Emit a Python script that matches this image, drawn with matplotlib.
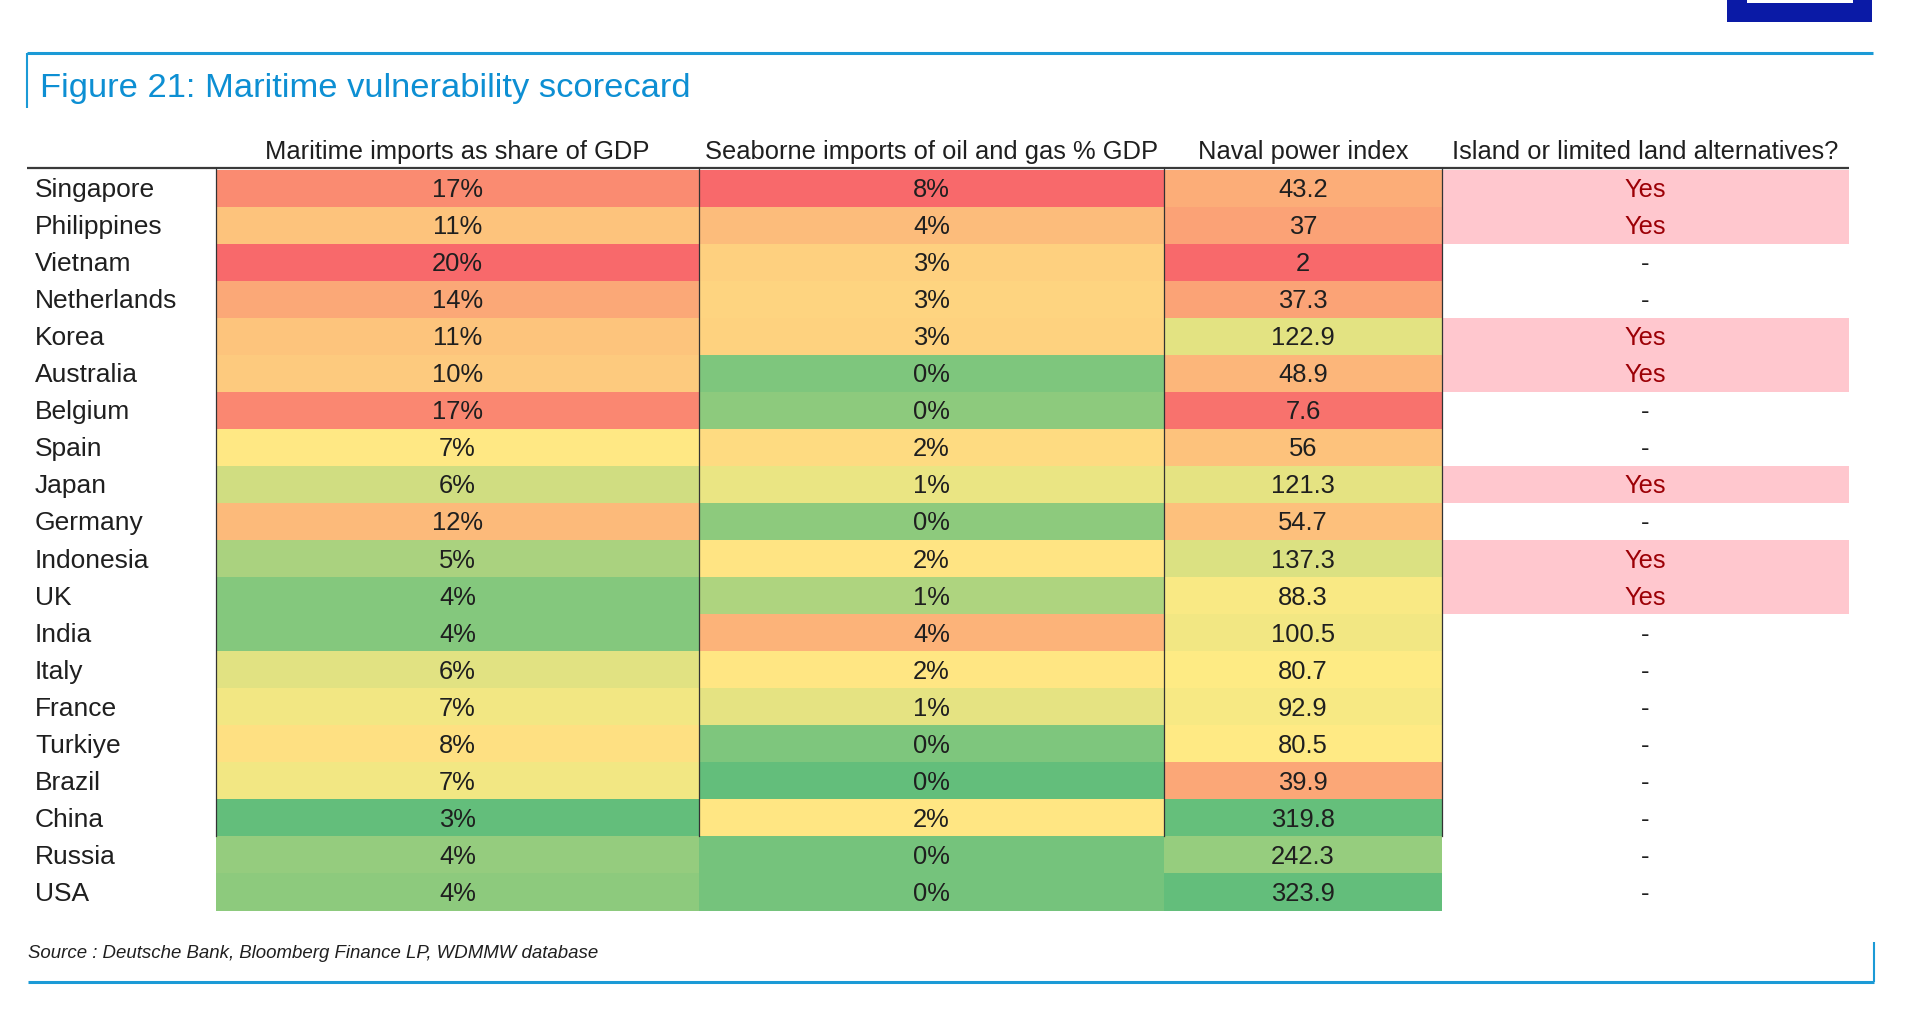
import numpy as np
import matplotlib.pyplot as plt
from matplotlib.colors import LinearSegmentedColormap, TwoSlopeNorm
from matplotlib.patches import Rectangle

# data read off the scorecard (decimals are estimates, shown rounded)
countries = ['Singapore', 'Philippines', 'Vietnam', 'Netherlands', 'Korea', 'Australia',
             'Belgium', 'Spain', 'Japan', 'Germany', 'Indonesia', 'UK', 'India', 'Italy',
             'France', 'Turkiye', 'Brazil', 'China', 'Russia', 'USA']
maritime_imports = [16.8, 11.0, 20.3, 13.8, 10.9, 10.3, 17.2, 7.2, 5.8, 12.0,
                    4.9, 4.0, 4.0, 6.2, 6.6, 8.0, 6.6, 3.2, 4.4, 4.2]
oil_gas_imports = [8.1, 4.0, 3.0, 2.8, 2.9, 0.3, 0.45, 2.45, 1.45, 0.45,
                   2.0, 0.8, 4.4, 1.9, 1.4, 0.3, 0.0, 1.9, 0.2, 0.2]
naval_power = [43.2, 37, 2, 37.3, 122.9, 48.9, 7.6, 56, 121.3, 54.7,
               137.3, 88.3, 100.5, 80.7, 92.9, 80.5, 39.9, 319.8, 242.3, 323.9]
island = ['Yes', 'Yes', '-', '-', 'Yes', 'Yes', '-', '-', 'Yes', '-',
          'Yes', 'Yes', '-', '-', '-', '-', '-', '-', '-', '-']
headers = ['Maritime imports as share of GDP', 'Seaborne imports of oil and gas % GDP',
           'Naval power index', 'Island or limited land alternatives?']
title = 'Figure 21: Maritime vulnerability scorecard'
source = 'Source : Deutsche Bank, Bloomberg Finance LP, WDMMW database'

plt.rcParams['font.family'] = ['Liberation Sans', 'DejaVu Sans']

W, H = 1932, 1014
fig = plt.figure(figsize=(W / 100, H / 100), dpi=100)
ax = fig.add_axes([0, 0, 1, 1])
ax.set_xlim(0, W)
ax.set_ylim(H, 0)
ax.axis('off')

blue = '#1b9ad6'
txt = '#1f1f1f'
fs = 18.4

# column edges (pixels) and rows
col_x = [216, 699, 1164, 1442, 1849]
row_top = 169.5
row_h = 37.05
n = len(countries)
y_edges = row_top + np.arange(n + 1) * row_h
y_mid = (y_edges[:-1] + y_edges[1:]) / 2

# excel-like 3 colour scale (green - yellow - red)
cmap = LinearSegmentedColormap.from_list('scale', ['#63BE7B', '#FFEB84', '#F8696B'])
cmap_r = cmap.reversed()

cols = [(maritime_imports, cmap, lambda v: f'{v:.0f}%'),
        (oil_gas_imports, cmap, lambda v: f'{v:.0f}%'),
        (naval_power, cmap_r, lambda v: f'{v:g}')]

for i, (vals, cm, fmt) in enumerate(cols):
    vals = np.array(vals, dtype=float)
    norm = TwoSlopeNorm(vcenter=np.median(vals), vmin=vals.min(), vmax=vals.max())
    ax.pcolormesh([col_x[i], col_x[i + 1]], y_edges, vals.reshape(-1, 1),
                  cmap=cm, norm=norm, shading='flat')
    xc = (col_x[i] + col_x[i + 1]) / 2
    for y, v in zip(y_mid, vals):
        ax.text(xc, y + 9, fmt(v), ha='center', va='baseline', fontsize=fs, color=txt)

# island column
is_yes = np.array([s == 'Yes' for s in island])
ax.barh(y_mid[is_yes], col_x[4] - col_x[3], left=col_x[3], height=row_h,
        color='#FFC7CE', linewidth=0)
xc = (col_x[3] + col_x[4]) / 2
for y, s in zip(y_mid, island):
    if s == 'Yes':
        ax.text(xc, y + 9, s, ha='center', va='baseline', fontsize=fs, color='#9C0006')
    else:
        ax.text(xc, y + 9, s, ha='center', va='baseline', fontsize=fs, color=txt)

# row labels
for y, c in zip(y_mid, countries):
    ax.text(35, y + 9, c, ha='left', va='baseline', fontsize=fs + 0.6, color=txt)

# headers
for i, h in enumerate(headers):
    ax.text((col_x[i] + col_x[i + 1]) / 2, 159, h, ha='center', va='baseline',
            fontsize=fs, color=txt)
ax.plot([27, 1849], [168, 168], color='#3a3a3a', lw=1.6, solid_capstyle='butt')

# thin borders down to the China row
y_china = y_edges[countries.index('China') + 1]
for x in col_x[:4]:
    ax.plot([x, x], [168, y_china], color='#333333', lw=0.9)

# frame, title, source
ax.plot([27, 1873], [53, 53], color=blue, lw=2.2, solid_capstyle='butt')
ax.plot([27, 27], [53, 108], color=blue, lw=1.5, solid_capstyle='butt')
ax.text(40, 89, title, ha='left', va='center', fontsize=24.8, color='#0d8fd3')
ax.text(28, 953, source, ha='left', va='center', fontsize=13.4, style='italic', color=txt)
ax.plot([28, 1874], [982, 982], color=blue, lw=2.2, solid_capstyle='butt')
ax.plot([1874, 1874], [942, 982], color=blue, lw=1.5, solid_capstyle='butt')

# logo corner
ax.add_patch(Rectangle((1727, 0), 145, 22, color='#0a1aa6', lw=0))
ax.add_patch(Rectangle((1747, 0), 106, 3, color='white', lw=0))

fig.savefig('out.png', dpi=100)
